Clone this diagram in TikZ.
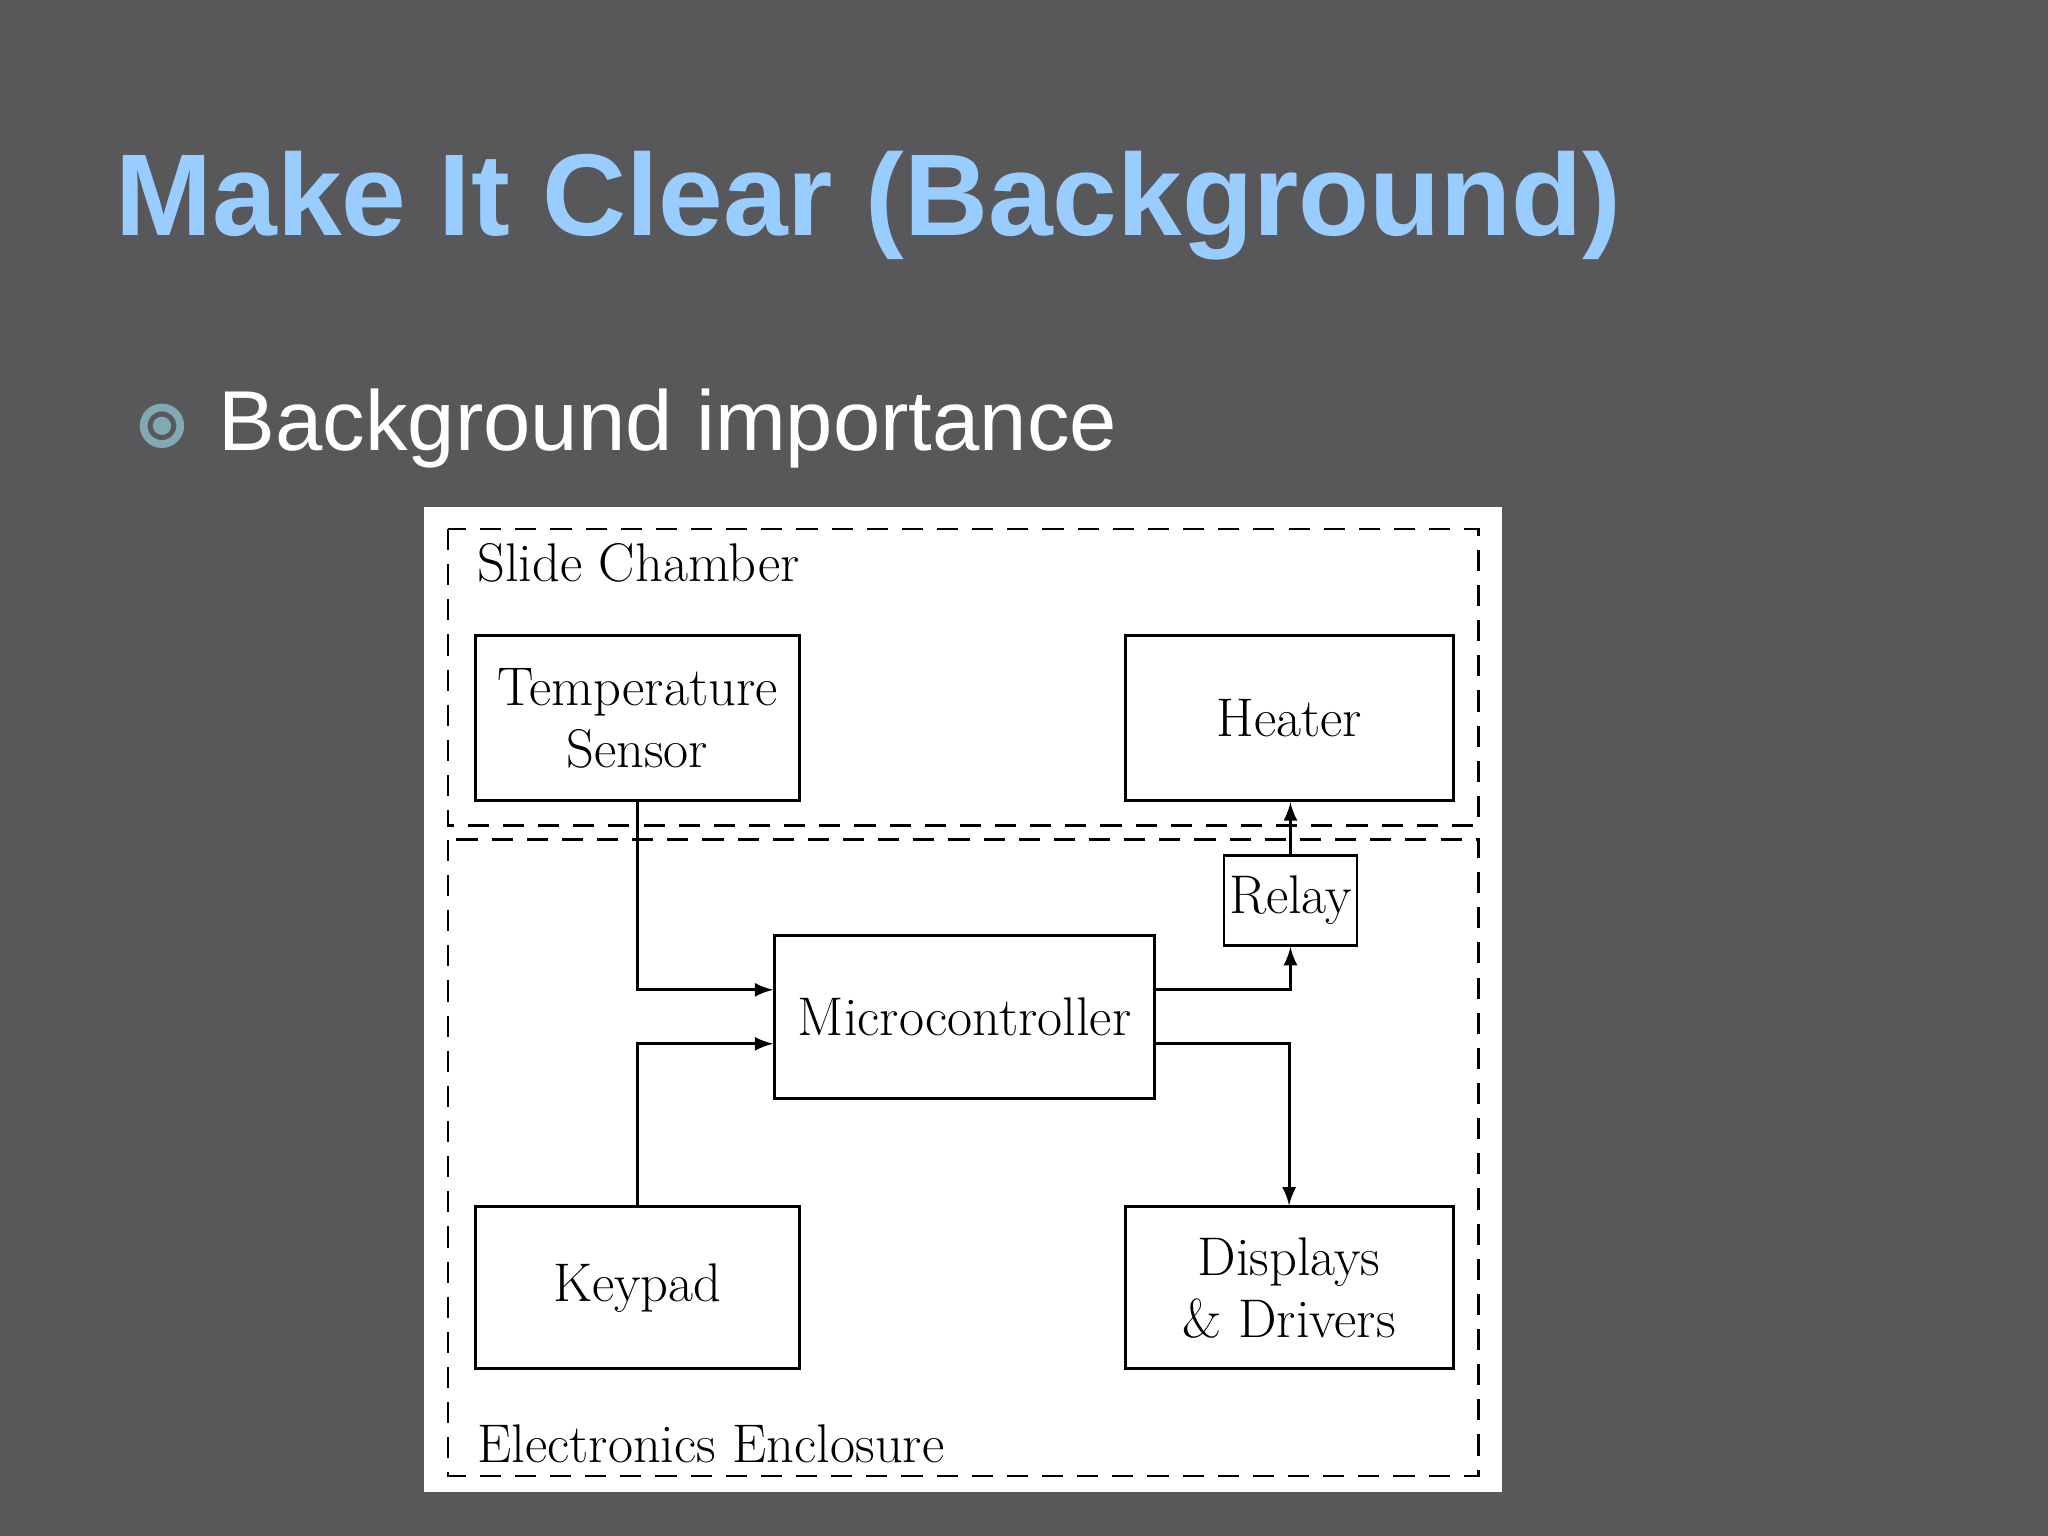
\documentclass[tikz,border=0pt]{standalone}
\usepackage{fontspec}
\newfontfamily\slidefont{Liberation Sans}
\usetikzlibrary{arrows, positioning}
\definecolor{slidegray}{HTML}{58585A}
\definecolor{titleblue}{HTML}{99CCFF}
\definecolor{bulletteal}{HTML}{7FA9B3}
\tikzstyle{block} = [rectangle, draw=black, thick, align=center, inner sep=0pt,
	font=\fontsize{15.5}{17.5}\selectfont]
\tikzstyle{zone} = [rectangle, draw=black, thick, dashed, dash pattern=on 6pt off 4pt]
\tikzstyle{arrow} = [->, >=latex, thick]
\begin{document}
\begin{tikzpicture}[x=0.01306cm, y=-0.01306cm]
	% slide background
	\fill[slidegray] (0,0) rectangle (1568,1176);
	\useasboundingbox (0,0) rectangle (1568,1176);

	% title and bullet
	\node (title) [anchor=base west, inner sep=0pt, text=titleblue,
		font=\slidefont\bfseries\fontsize{33.1}{36}\selectfont] at (88,180) {Make It Clear (Background)};
	\draw[bulletteal, line width=2.2pt] (124,326) circle (14);
	\fill[bulletteal] (124,326) circle (7);
	\node (bullet) [anchor=base west, inner sep=0pt, text=white,
		font=\slidefont\fontsize{24.2}{27}\selectfont] at (167,345) {Background importance};

	% figure area
	\fill[white] (325,388) rectangle (1150,1142);
	\draw[zone] (343,405) rectangle (1132,632);
	\draw[zone] (343,643) rectangle (1132,1130);
	\node (chamber) [anchor=base west, inner sep=0pt, font=\fontsize{15.5}{17.5}\selectfont] at (365,445) {Slide Chamber};
	\node (enclosure) [anchor=base west, inner sep=0pt, font=\fontsize{15.5}{17.5}\selectfont] at (365,1120) {Electronics Enclosure};

	% blocks
	\node (sensor) [block, minimum width=3.24cm, minimum height=1.65cm] at (488,550) {Temperature\\Sensor};
	\node (heater) [block, minimum width=3.28cm, minimum height=1.65cm] at (987,550) {Heater};
	\node (relay) [block, minimum width=1.33cm, minimum height=0.9cm] at (988,689.5) {Relay};
	\node (micro) [block, minimum width=3.8cm, minimum height=1.63cm] at (738.5,778.5) {Microcontroller};
	\node (keypad) [block, minimum width=3.24cm, minimum height=1.62cm] at (488,986) {Keypad};
	\node (displays) [block, minimum width=3.28cm, minimum height=1.62cm] at (987,986) {Displays\\\& Drivers};

	% connections
	\draw[arrow] (sensor.south) |- ([yshift=0.27cm]micro.west);
	\draw[arrow] (keypad.north) |- ([yshift=-0.27cm]micro.west);
	\draw[arrow] ([yshift=0.27cm]micro.east) -| (relay.south);
	\draw[arrow] (relay.north) -- (relay.north |- heater.south);
	\draw[arrow] ([yshift=-0.27cm]micro.east) -| (displays.north);
\end{tikzpicture}
\end{document}
